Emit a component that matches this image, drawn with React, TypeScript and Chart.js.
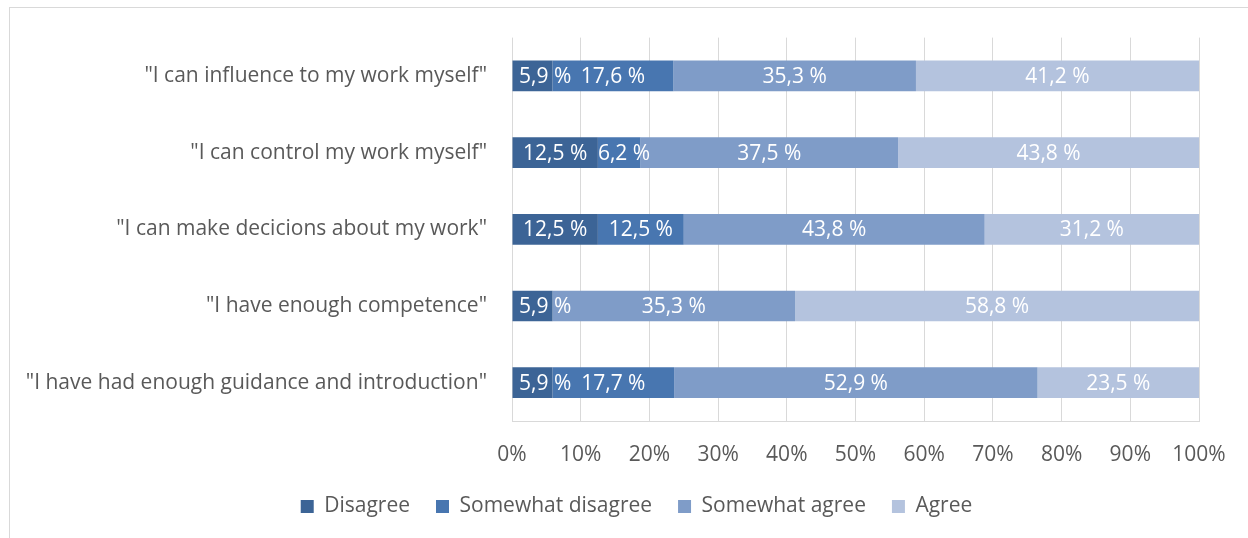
import React, { useEffect, useRef } from "react";
import { Chart, registerables } from "chart.js";

Chart.register(...registerables);

const categories = [
  '"I can influence to my work myself"',
  '"I can control my work myself"',
  '"I can make decicions about my work"',
  '"I have enough competence"',
  '"I have had enough guidance and introduction"',
];
const seriesNames = ["Disagree", "Somewhat disagree", "Somewhat agree", "Agree"];
const disagree = [5.9, 12.5, 12.5, 5.9, 5.9];
const somewhatDisagree = [17.6, 6.2, 12.5, 0, 17.7];
const somewhatAgree = [35.3, 37.5, 43.8, 35.3, 52.9];
const agree = [41.2, 43.8, 31.2, 58.8, 23.5];
const seriesColors = ["#3c6496", "#4876b0", "#7f9cc8", "#b4c3de"];
const xTicks = [0, 10, 20, 30, 40, 50, 60, 70, 80, 90, 100];

const FONT = "'Open Sans', 'Noto Sans', sans-serif";
const TEXT = "#595959";

const labelPlugin = {
  id: "segLabels",
  afterLayout(chart: any) {
    if (chart.legend) {
      chart.legend.left += 74;
    }
  },
  afterDatasetsDraw(chart: any) {
    const ctx = chart.ctx;
    const area = chart.chartArea;
    ctx.save();
    ctx.font = `21px ${FONT}`;
    ctx.fillStyle = "#ffffff";
    ctx.textBaseline = "middle";
    ctx.textAlign = "left";
    chart.data.datasets.forEach((ds: any, di: number) => {
      const meta = chart.getDatasetMeta(di);
      meta.data.forEach((bar: any, i: number) => {
        const v = ds.data[i];
        if (!v) return;
        const txt = v.toFixed(1).replace(".", ",") + " %";
        const w = ctx.measureText(txt).width;
        const start = Math.min(bar.base, bar.x);
        const end = Math.max(bar.base, bar.x);
        const center = (start + end) / 2;
        let left = center - w / 2;
        left = Math.max(left, start, area.left + 7);
        ctx.fillText(txt, left, bar.y + 1);
      });
    });
    ctx.restore();
  },
};

export default function App() {
  const ref = useRef<HTMLCanvasElement>(null);
  useEffect(() => {
    if (!ref.current) return;
    const data = [disagree, somewhatDisagree, somewhatAgree, agree];
    const chart = new Chart(ref.current, {
      type: "bar",
      data: {
        labels: categories,
        datasets: seriesNames.map((name, k) => ({
          label: name,
          data: data[k],
          backgroundColor: seriesColors[k],
          borderWidth: 0,
          barPercentage: 0.4,
          categoryPercentage: 1,
        })),
      },
      options: {
        indexAxis: "y",
        animation: false,
        responsive: false,
        maintainAspectRatio: false,
        layout: { padding: { top: 37, right: 49, left: 0, bottom: 11 } },
        plugins: {
          tooltip: { enabled: false },
          legend: {
            position: "bottom",
            labels: {
              font: { family: FONT, size: 21 },
              color: TEXT,
              boxWidth: 13,
              boxHeight: 13,
              padding: 26,
            },
          },
        },
        scales: {
          x: {
            stacked: true,
            min: 0,
            max: 100,
            afterBuildTicks: (s: any) => {
              s.ticks = xTicks.map((v) => ({ value: v }));
            },
            ticks: {
              callback: (v: any) => v + "%",
              font: { family: FONT, size: 21 },
              color: TEXT,
              padding: 21,
            },
            grid: { color: "#d9d9d9", drawTicks: false },
            border: { color: "#d9d9d9" },
            afterFit: (s: any) => {
              s.height = 49;
            },
          },
          y: {
            stacked: true,
            ticks: {
              font: { family: FONT, size: 21 },
              color: TEXT,
              padding: 25,
            },
            grid: { display: false, drawTicks: false },
            border: { display: false },
            afterFit: (s: any) => {
              s.width = 512;
            },
          },
        },
      },
      plugins: [labelPlugin],
    });
    return () => chart.destroy();
  }, []);
  return (
    <div
      style={{
        position: "fixed",
        left: 0,
        top: 0,
        width: 1248,
        height: 538,
        overflow: "hidden",
        background: "#ffffff",
      }}
    >
      <div
        style={{
          position: "absolute",
          left: 9,
          top: 7,
          width: 1400,
          height: 700,
          border: "1px solid #d9d9d9",
          boxSizing: "border-box",
        }}
      />
      <canvas
        ref={ref}
        width={1248}
        height={538}
        style={{ position: "absolute", left: 0, top: 0, width: 1248, height: 538 }}
      />
    </div>
  );
}
